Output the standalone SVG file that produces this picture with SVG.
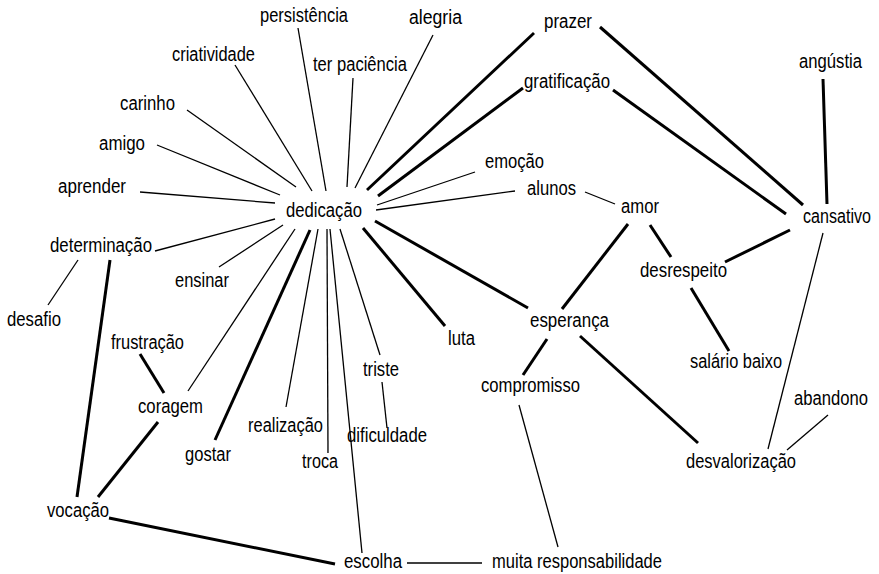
<svg xmlns="http://www.w3.org/2000/svg" width="879" height="574" viewBox="0 0 879 574">
<style>
text{font-family:"Liberation Sans Narrow","Liberation Sans",Arial,sans-serif;font-size:20px;fill:#000}
.t{stroke:#000;stroke-width:1.3;fill:none}
.k{stroke:#000;stroke-width:3;fill:none}
</style>
<rect width="879" height="574" fill="#fff"/>
<g id="connectors">
<line class="t" x1="298" y1="28" x2="326" y2="191"/>
<line class="t" x1="235" y1="65" x2="312" y2="191"/>
<line class="t" x1="353" y1="78" x2="347" y2="187"/>
<line class="t" x1="433" y1="35" x2="355" y2="188"/>
<line class="t" x1="187" y1="110" x2="296" y2="187"/>
<line class="t" x1="157" y1="145" x2="280" y2="195"/>
<line class="t" x1="140" y1="192" x2="275" y2="203"/>
<line class="t" x1="155" y1="251" x2="275" y2="219"/>
<line class="t" x1="219" y1="267" x2="283" y2="225"/>
<line class="t" x1="295" y1="229" x2="188" y2="391"/>
<line class="k" x1="310" y1="230" x2="215" y2="440"/>
<line class="t" x1="318" y1="229" x2="286" y2="407"/>
<line class="t" x1="327" y1="229" x2="328" y2="453"/>
<line class="t" x1="330" y1="229" x2="362" y2="553"/>
<line class="t" x1="340" y1="229" x2="380" y2="355"/>
<line class="t" x1="78" y1="260" x2="48" y2="305"/>
<line class="k" x1="110" y1="260" x2="77" y2="497"/>
<line class="k" x1="363" y1="228" x2="445" y2="326"/>
<line class="k" x1="375" y1="221" x2="528" y2="308"/>
<line class="k" x1="367" y1="190" x2="534" y2="33"/>
<line class="k" x1="378" y1="196" x2="523" y2="88"/>
<line class="t" x1="377" y1="205" x2="475" y2="172"/>
<line class="t" x1="376" y1="210" x2="515" y2="191"/>
<line class="t" x1="585" y1="192" x2="615" y2="204"/>
<line class="k" x1="628" y1="224" x2="562" y2="309"/>
<line class="k" x1="650" y1="225" x2="671" y2="257"/>
<line class="k" x1="725" y1="262" x2="790" y2="230"/>
<line class="k" x1="691" y1="288" x2="729" y2="351"/>
<line class="k" x1="600" y1="27" x2="803" y2="205"/>
<line class="k" x1="613" y1="90" x2="786" y2="214"/>
<line class="k" x1="823" y1="79" x2="827" y2="204"/>
<line class="t" x1="823" y1="233" x2="768" y2="449"/>
<line class="t" x1="828" y1="415" x2="787" y2="450"/>
<line class="k" x1="580" y1="336" x2="698" y2="443"/>
<line class="k" x1="547" y1="339" x2="523" y2="375"/>
<line class="t" x1="519" y1="405" x2="558" y2="547"/>
<line class="t" x1="407" y1="563" x2="482" y2="563"/>
<line class="k" x1="109" y1="518" x2="335" y2="564"/>
<line class="k" x1="140" y1="354" x2="164" y2="393"/>
<line class="k" x1="158" y1="422" x2="98" y2="497"/>
<line class="t" x1="382" y1="382" x2="387" y2="428"/>
</g>
<g id="n-persistencia"><text x="260" y="22" textLength="88" lengthAdjust="spacingAndGlyphs">persistência</text></g>
<g id="n-criatividade"><text x="172" y="61" textLength="83" lengthAdjust="spacingAndGlyphs">criatividade</text></g>
<g id="n-terpaciencia"><text x="313" y="71" textLength="94" lengthAdjust="spacingAndGlyphs">ter paciência</text></g>
<g id="n-alegria"><text x="409" y="24" textLength="53" lengthAdjust="spacingAndGlyphs">alegria</text></g>
<g id="n-carinho"><text x="120" y="110" textLength="55" lengthAdjust="spacingAndGlyphs">carinho</text></g>
<g id="n-amigo"><text x="99" y="150" textLength="46" lengthAdjust="spacingAndGlyphs">amigo</text></g>
<g id="n-aprender"><text x="58" y="193" textLength="68" lengthAdjust="spacingAndGlyphs">aprender</text></g>
<g id="n-dedicacao"><text x="286" y="217" textLength="76" lengthAdjust="spacingAndGlyphs">dedicação</text></g>
<g id="n-determinacao"><text x="50" y="252" textLength="102" lengthAdjust="spacingAndGlyphs">determinação</text></g>
<g id="n-ensinar"><text x="175" y="287" textLength="54" lengthAdjust="spacingAndGlyphs">ensinar</text></g>
<g id="n-desafio"><text x="7" y="326" textLength="54" lengthAdjust="spacingAndGlyphs">desafio</text></g>
<g id="n-frustracao"><text x="111" y="349" textLength="73" lengthAdjust="spacingAndGlyphs">frustração</text></g>
<g id="n-coragem"><text x="138" y="413" textLength="65" lengthAdjust="spacingAndGlyphs">coragem</text></g>
<g id="n-gostar"><text x="185" y="461" textLength="46" lengthAdjust="spacingAndGlyphs">gostar</text></g>
<g id="n-realizacao"><text x="248" y="432" textLength="75" lengthAdjust="spacingAndGlyphs">realização</text></g>
<g id="n-troca"><text x="302" y="468" textLength="36" lengthAdjust="spacingAndGlyphs">troca</text></g>
<g id="n-triste"><text x="363" y="376" textLength="36" lengthAdjust="spacingAndGlyphs">triste</text></g>
<g id="n-dificuldade"><text x="347" y="442" textLength="80" lengthAdjust="spacingAndGlyphs">dificuldade</text></g>
<g id="n-vocacao"><text x="47" y="517" textLength="62" lengthAdjust="spacingAndGlyphs">vocação</text></g>
<g id="n-escolha"><text x="344" y="568" textLength="58" lengthAdjust="spacingAndGlyphs">escolha</text></g>
<g id="n-muitaresp"><text x="492" y="568" textLength="170" lengthAdjust="spacingAndGlyphs">muita responsabilidade</text></g>
<g id="n-luta"><text x="448" y="345" textLength="27" lengthAdjust="spacingAndGlyphs">luta</text></g>
<g id="n-esperanca"><text x="530" y="327" textLength="79" lengthAdjust="spacingAndGlyphs">esperança</text></g>
<g id="n-compromisso"><text x="481" y="392" textLength="99" lengthAdjust="spacingAndGlyphs">compromisso</text></g>
<g id="n-salario"><text x="690" y="368" textLength="92" lengthAdjust="spacingAndGlyphs">salário baixo</text></g>
<g id="n-abandono"><text x="868" y="405" text-anchor="end" textLength="74" lengthAdjust="spacingAndGlyphs">abandono</text></g>
<g id="n-desvalorizacao"><text x="686" y="468" textLength="110" lengthAdjust="spacingAndGlyphs">desvalorização</text></g>
<g id="n-prazer"><text x="544" y="28" textLength="48" lengthAdjust="spacingAndGlyphs">prazer</text></g>
<g id="n-angustia"><text x="799" y="68" textLength="63" lengthAdjust="spacingAndGlyphs">angústia</text></g>
<g id="n-gratificacao"><text x="524" y="88" textLength="86" lengthAdjust="spacingAndGlyphs">gratificação</text></g>
<g id="n-emocao"><text x="485" y="168" textLength="59" lengthAdjust="spacingAndGlyphs">emoção</text></g>
<g id="n-alunos"><text x="527" y="195" textLength="49" lengthAdjust="spacingAndGlyphs">alunos</text></g>
<g id="n-amor"><text x="621" y="213" textLength="38" lengthAdjust="spacingAndGlyphs">amor</text></g>
<g id="n-cansativo"><text x="871" y="223" text-anchor="end" textLength="68" lengthAdjust="spacingAndGlyphs">cansativo</text></g>
<g id="n-desrespeito"><text x="640" y="277" textLength="87" lengthAdjust="spacingAndGlyphs">desrespeito</text></g>
</svg>
